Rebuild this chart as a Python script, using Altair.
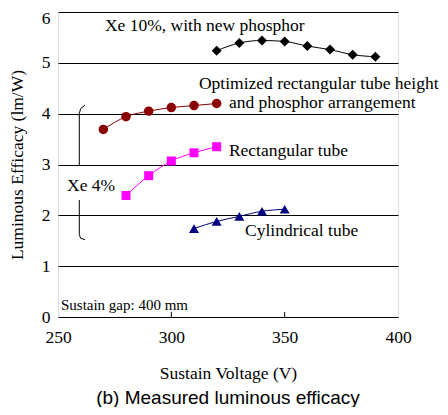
import altair as alt
import pandas as pd

# ---- data ----
xe10_v = [320, 330, 340, 350, 360, 370, 380, 390]
xe10_e = [5.24, 5.39, 5.44, 5.42, 5.33, 5.26, 5.16, 5.12]

opt_v = [270, 280, 290, 300, 310, 320]
opt_e = [3.69, 3.94, 4.05, 4.12, 4.16, 4.20]

rect_v = [280, 290, 300, 310, 320]
rect_e = [2.39, 2.78, 3.07, 3.23, 3.35]

cyl_v = [310, 320, 330, 340, 350]
cyl_e = [1.74, 1.88, 1.98, 2.08, 2.12]

x_ticks = [250, 300, 350, 400]
y_ticks = [0, 1, 2, 3, 4, 5, 6]

label_text = ["Xe 10%, with new phosphor", "Optimized rectangular tube height",
              "and phosphor arrangement", "Rectangular tube", "Cylindrical tube", "Xe 4%"]
label_v = [270.7, 312.2, 325.4, 325.4, 332.5, 254.0]
label_e = [5.73, 4.59, 4.21, 3.27, 1.69, 2.58]

note_text = ["Sustain gap: 400 mm"]
note_v = [251.3]
note_e = [0.24]

bracket_seg = ["top"] * 4 + ["bottom"] * 4
bracket_v = [261.9, 260.0, 259.4, 259.4, 259.4, 259.4, 260.0, 261.9]
bracket_e = [4.17, 4.10, 4.00, 2.97, 2.30, 1.62, 1.55, 1.52]
bracket_order = list(range(8))

inner_ticks = [300, 350]

SERIF = "Liberation Serif"
FS = 17.5

xs = alt.Scale(domain=[250, 400], nice=False, zero=False)
ys = alt.Scale(domain=[0, 6], nice=False)


def series(v, e, color, shape, size):
    df = pd.DataFrame({"v": v, "e": e})
    base = alt.Chart(df).encode(
        x=alt.X("v:Q", scale=xs),
        y=alt.Y("e:Q", scale=ys),
    )
    line = base.mark_line(color=color, strokeWidth=1, interpolate="monotone")
    pts = base.mark_point(color=color, filled=True, opacity=1, shape=shape, size=size)
    return line + pts


axis_base = alt.Chart(pd.DataFrame({"v": [250], "e": [0]})).mark_point(opacity=0).encode(
    x=alt.X("v:Q", scale=xs, title="Sustain Voltage (V)",
            axis=alt.Axis(values=x_ticks, grid=False, domain=False, ticks=False,
                          labelFont=SERIF, labelFontSize=FS, labelColor="black",
                          labelPadding=11, titleFont=SERIF, titleFontSize=FS,
                          titleFontWeight="normal", titleColor="black", titlePadding=19,
                          labelFlush=False)),
    y=alt.Y("e:Q", scale=ys, title="Luminous Efficacy (lm/W)",
            axis=alt.Axis(values=y_ticks, grid=True, gridColor="black", gridWidth=1,
                          gridOpacity=1, domain=False, ticks=False,
                          labelFont=SERIF, labelFontSize=FS, labelColor="black",
                          labelPadding=8, titleFont=SERIF, titleFontSize=FS,
                          titleFontWeight="normal", titleColor="black", titlePadding=15,
                          labelFlush=False,
                          labelBaseline={"condition": {"test": "datum.value == 6", "value": "top"},
                                         "value": "middle"},
                          labelOffset={"condition": {"test": "datum.value == 6", "value": -3},
                                       "value": 0})),
)

ticks_df = pd.DataFrame({"v": inner_ticks, "e0": [0] * 2, "e1": [0.1] * 2})
tick_layer = alt.Chart(ticks_df).mark_rule(color="black", strokeWidth=1).encode(
    x=alt.X("v:Q", scale=xs), y=alt.Y("e0:Q", scale=ys), y2="e1:Q")

br_df = pd.DataFrame({"v": bracket_v, "e": bracket_e, "seg": bracket_seg, "o": bracket_order})
bracket = alt.Chart(br_df).mark_line(color="black", strokeWidth=1).encode(
    x=alt.X("v:Q", scale=xs), y=alt.Y("e:Q", scale=ys), detail="seg:N", order="o:Q")

lab_df = pd.DataFrame({"t": label_text, "v": label_v, "e": label_e})
labels = alt.Chart(lab_df).mark_text(font=SERIF, fontSize=FS, align="left",
                                     baseline="middle", color="black").encode(
    x=alt.X("v:Q", scale=xs), y=alt.Y("e:Q", scale=ys), text="t:N")

note_df = pd.DataFrame({"t": note_text, "v": note_v, "e": note_e})
note = alt.Chart(note_df).mark_text(font=SERIF, fontSize=15, align="left",
                                    baseline="middle", color="black").encode(
    x=alt.X("v:Q", scale=xs), y=alt.Y("e:Q", scale=ys), text="t:N")

chart = alt.layer(
    axis_base,
    tick_layer,
    bracket,
    series(cyl_v, cyl_e, "#000080", "triangle-up", 100),
    series(rect_v, rect_e, "#FF00FF", "square", 81),
    series(opt_v, opt_e, "#8B0000", "circle", 90),
    series(xe10_v, xe10_e, "black", "diamond", 100),
    labels,
    note,
).properties(
    width=340,
    height=305,
    title=alt.TitleParams("(b) Measured luminous efficacy", orient="bottom",
                          font="Liberation Sans", fontSize=19, fontWeight="normal",
                          color="black", offset=7),
    autosize=alt.AutoSizeParams(type="none"),
    padding={"left": 50, "top": 4, "right": 42, "bottom": 90},
).configure_view(stroke="black", strokeWidth=1.5).configure(background="white")

chart.save("out.html", embed_options={"renderer": "svg", "actions": False})
